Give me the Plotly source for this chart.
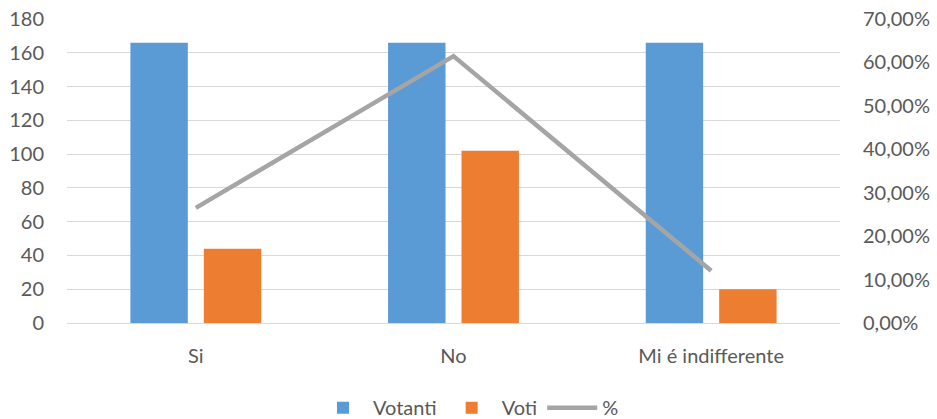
import plotly.graph_objects as go

categories = ["Si", "No", "Mi é indifferente"]
votanti = [166, 166, 166]
voti = [44, 102, 20]
percent = [0.2651, 0.6145, 0.1205]

FONT = "Lato"
TXT = "#595959"
FS = 20

fig = go.Figure()
fig.add_trace(go.Bar(name="Votanti", x=categories, y=votanti,
                     marker=dict(color="#5B9BD5", line=dict(width=0))))
fig.add_trace(go.Bar(name="Voti", x=categories, y=voti,
                     marker=dict(color="#ED7D31", line=dict(width=0))))
fig.add_trace(go.Scatter(name="%", x=categories, y=percent, yaxis="y2",
                         mode="lines", line=dict(color="#A5A5A5", width=4.5)))

fig.update_layout(
    width=937, height=419,
    margin=dict(l=67, r=97, t=19, b=96, autoexpand=False),
    paper_bgcolor="white", plot_bgcolor="white",
    separators=",.",
    font=dict(family=FONT, size=FS, color=TXT),
    barmode="group", bargap=0.43, bargroupgap=0.218,
    xaxis=dict(showgrid=False, showline=True, linecolor="#D9D9D9", linewidth=1,
               ticks="", ticklabelstandoff=15, automargin=False,
               ticklabeloverflow="allow",
               tickfont=dict(size=FS, color=TXT)),
    yaxis=dict(range=[0, 180], dtick=20, showgrid=True, gridcolor="#D9D9D9",
               gridwidth=1, zeroline=False, showline=False, ticks="",
               ticklabelstandoff=22, automargin=False,
               ticklabeloverflow="allow",
               tickfont=dict(size=FS, color=TXT)),
    yaxis2=dict(range=[0, 0.7], dtick=0.1, overlaying="y", side="right",
                tickformat=".2%", showgrid=False, zeroline=False, showline=False,
                ticks="", ticklabelstandoff=22, automargin=False,
                ticklabeloverflow="allow",
                tickfont=dict(size=FS, color=TXT)),
    legend=dict(orientation="h", xref="container", yref="container",
                x=0.5, xanchor="center", y=0.027, yanchor="middle",
                font=dict(size=FS, color=TXT), itemwidth=50,
                traceorder="normal"),
    showlegend=True,
)

fig.write_html("out.html", config={"displayModeBar": False},
               post_script="document.body.style.margin='0';")
